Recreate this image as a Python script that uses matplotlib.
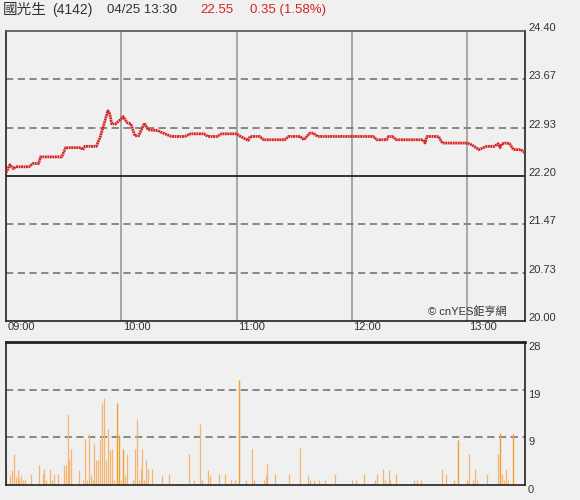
import matplotlib
matplotlib.use("Agg")
import matplotlib.pyplot as plt
import matplotlib.transforms as mtrans

plt.rcParams['font.family'] = ['Liberation Sans', 'Noto Sans CJK TC', 'DejaVu Sans']

# price turning points, minutes after 09:00
price_min = [0, 2, 4, 5, 12, 14, 17, 18, 29, 31, 39, 40, 41, 47, 49, 51, 53, 54,
             55, 57, 60, 61, 63, 65, 67, 69, 72, 74, 79, 81, 86, 93, 96, 103, 105,
             110, 112, 120, 122, 126, 127, 132, 134, 145, 147, 153, 155, 158, 160,
             162, 191, 193, 198, 199, 201, 203, 217, 218, 219, 225, 227, 239, 241,
             243, 246, 250, 254, 256, 257, 258, 260, 262, 264, 268, 270]
price_val = [22.25, 22.37, 22.31, 22.34, 22.34, 22.39, 22.39, 22.49, 22.49, 22.63,
             22.63, 22.60, 22.65, 22.65, 22.79, 22.99, 23.19, 23.14, 22.99, 22.99,
             23.07, 23.10, 23.01, 22.99, 22.81, 22.81, 23.00, 22.90, 22.89, 22.86,
             22.80, 22.80, 22.84, 22.84, 22.80, 22.80, 22.84, 22.84, 22.80, 22.74,
             22.80, 22.80, 22.75, 22.75, 22.80, 22.80, 22.75, 22.85, 22.85, 22.80,
             22.80, 22.75, 22.75, 22.80, 22.80, 22.75, 22.75, 22.70, 22.80, 22.80,
             22.70, 22.70, 22.69, 22.66, 22.60, 22.65, 22.65, 22.69, 22.63, 22.69,
             22.70, 22.69, 22.60, 22.60, 22.55]

# volume per minute
vol_min = [0, 2, 3, 4, 5, 6, 7, 8, 9, 10, 13, 17, 19, 20, 21, 23, 24, 25, 27, 30,
           31, 32, 33, 34, 38, 40, 41, 42, 43, 44, 45, 46, 47, 48, 49, 50, 51, 52,
           53, 54, 55, 56, 58, 59, 60, 61, 62, 63, 66, 67, 68, 69, 70, 71, 72, 73,
           74, 76, 81, 85, 95, 98, 101, 102, 105, 106, 111, 114, 117, 119, 121,
           125, 128, 129, 134, 135, 136, 140, 147, 153, 157, 158, 160, 163, 166,
           171, 180, 182, 186, 192, 193, 196, 197, 199, 200, 203, 212, 214, 216,
           227, 229, 233, 235, 240, 241, 243, 244, 245, 250, 256, 257, 258, 259,
           260, 261, 264, 270]
vol_val = [3.9, 2.0, 2.9, 6.1, 1.6, 2.9, 1.3, 2.0, 1.0, 1.0, 2.2, 4.0, 2.2, 3.1,
           1.0, 3.1, 1.0, 2.2, 2.2, 3.9, 4.0, 14.0, 5.0, 7.0, 2.9, 1.0, 9.1, 1.0,
           10.0, 2.0, 1.0, 8.0, 4.9, 4.9, 8.8, 16.0, 17.0, 4.9, 11.0, 6.9, 7.0,
           1.0, 16.0, 9.8, 1.0, 7.0, 2.0, 6.1, 1.0, 7.0, 13.0, 1.0, 3.1, 7.0, 1.0,
           4.9, 3.1, 3.1, 2.0, 2.2, 6.1, 1.0, 11.9, 1.0, 2.9, 2.0, 2.2, 2.2, 1.0,
           1.0, 20.5, 1.0, 7.0, 1.0, 1.0, 2.0, 4.1, 2.2, 2.2, 7.2, 2.0, 1.0, 1.0,
           1.0, 1.0, 2.2, 1.0, 1.0, 2.2, 1.0, 2.2, 3.1, 1.0, 2.9, 1.0, 2.2, 1.0,
           1.0, 1.0, 3.1, 2.2, 1.0, 8.9, 1.0, 6.1, 1.0, 3.1, 1.0, 2.2, 6.1, 10.1,
           2.2, 1.0, 3.1, 1.0, 10.0, 28.0]
dark_min = [58, 59, 61, 121, 235, 257, 264, 270]

price_ticks = [20.00, 20.73, 21.47, 22.20, 22.93, 23.67, 24.40]
prev_close = 22.20
vol_ticks = [0, 28 / 3, 56 / 3, 28]
vol_labels = ["0", "9", "19", "28"]
hour_ticks = [0, 60, 120, 180, 240]
hour_labels = ["09:00", "10:00", "11:00", "12:00", "13:00"]

bg = '#f0f0f0'
fig = plt.figure(figsize=(5.8, 5.0), dpi=100, facecolor=bg)
ax = fig.add_axes([6 / 580, 1 - 321 / 500, 519 / 580, 290 / 500], facecolor=bg)
axv = fig.add_axes([6 / 580, 1 - 485 / 500, 519 / 580, 143 / 500], facecolor=bg)

for a in (ax, axv):
    a.set_xlim(0, 270)
    a.set_xticks([])
    a.set_yticks([])
    for s in a.spines.values():
        s.set_color('#222222')
        s.set_linewidth(1.2)
ax.spines['top'].set_color('#555555')
axv.spines['top'].set_linewidth(2)

# top panel grid
for t in hour_ticks[1:]:
    ax.axvline(t, color='#999999', lw=1.2, zorder=1)
for p in price_ticks[1:-1]:
    if p == prev_close:
        ax.axhline(p, color='#222222', lw=1.3, zorder=1)
    else:
        ax.axhline(p, color='#808080', lw=1.3, ls=(0, (4, 2.5)), zorder=1)
ax.set_ylim(price_ticks[0], price_ticks[-1])
ax.plot(price_min, price_val, color='#d42424', lw=2.0, ls=(0, (0.7, 0.2)),
        zorder=3)

off_up = mtrans.ScaledTranslation(0, 3 / 100, fig.dpi_scale_trans)
for p in price_ticks:
    ax.text(1.006, p, f"{p:.2f}", transform=ax.get_yaxis_transform() + off_up,
            fontsize=8, color='#333333', va='center', ha='left')

for t, lab in zip(hour_ticks, hour_labels):
    ax.text(t + 0.8, -0.005, lab, transform=ax.get_xaxis_transform(),
            fontsize=8, color='#333333', va='top', ha='left')

ax.text(0.965, 0.013, "© cnYES鉅亨網", transform=ax.transAxes, fontsize=8,
        color='#333333', ha='right', va='bottom')

# volume panel
off_dn = mtrans.ScaledTranslation(0, -5 / 100, fig.dpi_scale_trans)
for v in vol_ticks[1:-1]:
    axv.axhline(v, color='#808080', lw=1.3, ls=(0, (4, 2.5)), zorder=1)
axv.set_ylim(0, 28)
light_x = [m for m in vol_min if m not in dark_min]
light_v = [v for m, v in zip(vol_min, vol_val) if m not in dark_min]
dark_x = [m for m in vol_min if m in dark_min]
dark_v = [v for m, v in zip(vol_min, vol_val) if m in dark_min]
axv.vlines(light_x, 0, light_v, color='#f5b570', lw=0.9, zorder=2)
axv.vlines(dark_x, 0, dark_v, color='#f0a030', lw=1.0, zorder=2)
for v, lab in zip(vol_ticks, vol_labels):
    axv.text(1.006, v, lab, transform=axv.get_yaxis_transform() + off_dn,
             fontsize=8, color='#333333', va='center', ha='left')

# header
hy = 1 - 10 / 500
fig.text(3 / 580, hy, "國光生", fontsize=10.5, color='#333333', va='center', ha='left')
fig.text(52 / 580, hy, "(4142)", fontsize=10, color='#333333', va='center', ha='left')
fig.text(107 / 580, hy, "04/25 13:30", fontsize=9.5, color='#333333',
         va='center', ha='left')
fig.text(200 / 580, hy, "22.55", fontsize=9.5, color='#d42424',
         va='center', ha='left')
fig.text(250 / 580, hy, "0.35 (1.58%)", fontsize=9.5, color='#d42424',
         va='center', ha='left')

fig.savefig("out.png", dpi=100, facecolor=bg)
